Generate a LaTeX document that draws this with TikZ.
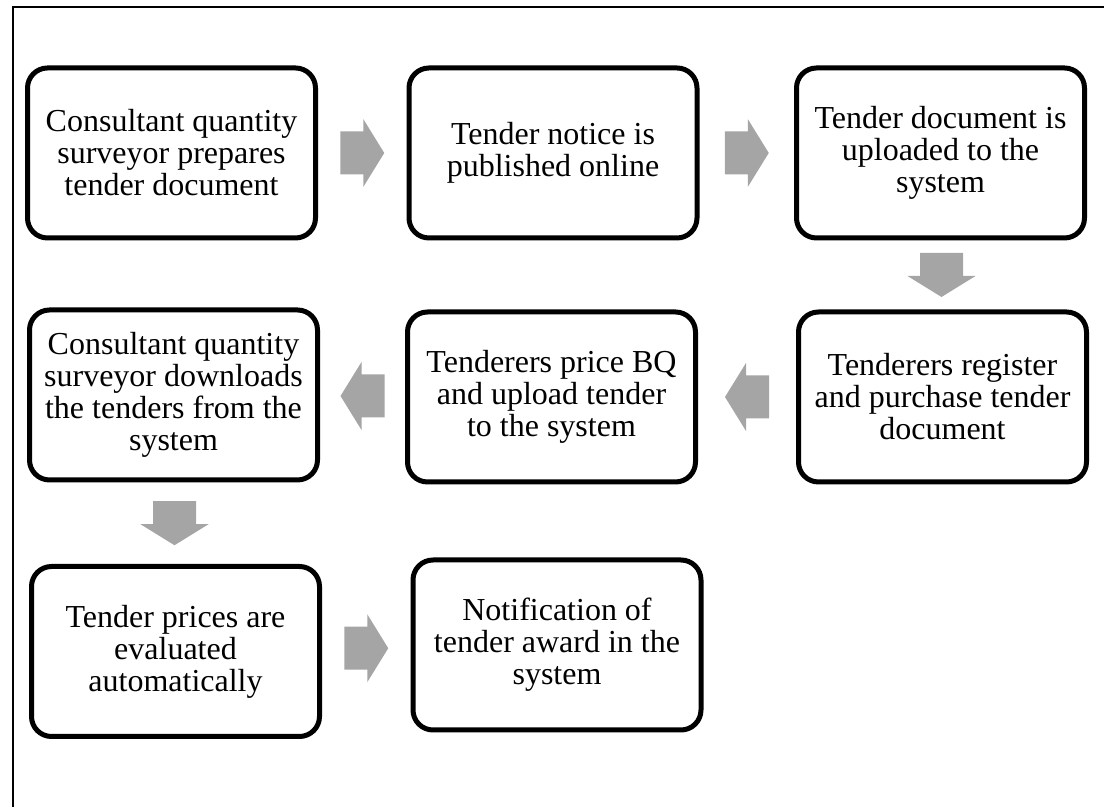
\documentclass[tikz,border=0pt]{standalone}
\usepackage{fontspec}
\setmainfont{Liberation Serif}
\usepackage{tikz}
\usetikzlibrary{calc}
\definecolor{arrowgray}{HTML}{A5A5A5}
\tikzset{
  stepbox/.style={draw, line width=2.5pt, rounded corners=10pt,
    minimum width=144pt, minimum height=85pt, inner sep=0pt,
    align=center, font=\fontsize{16}{16}\selectfont},
  blockarrow/.pic={
    \fill[arrowgray] (-22,-21.5) -- (1,-21.5) -- (1,-34) -- (22,0)
      -- (1,34) -- (1,21.5) -- (-22,21.5) -- cycle;
  }
}

\begin{document}
\begin{tikzpicture}[x=0.5pt,y=0.5pt]
  \useasboundingbox (0,0) rectangle (1104,807);
  \draw[line width=1pt] (13,0) -- (13,800) -- (1104,800);
  % first row
  \node[stepbox] (prepare) at (171.5,654) {Consultant quantity\\surveyor prepares\\tender document};
  \node[stepbox] (notice) at (553,654) {Tender notice is\\published online};
  \node[stepbox] (upload) at (940.5,654) {Tender document is\\uploaded to the\\system};
  % second row
  \node[stepbox] (register) at (942.5,410) {Tenderers register\\and purchase tender\\document};
  \node[stepbox] (price) at (551.5,410) {Tenderers price BQ\\and upload tender\\to the system};
  \node[stepbox] (download) at (173.5,412) {Consultant quantity\\surveyor downloads\\the tenders from the\\system};
  % third row
  \node[stepbox] (evaluate) at (175.5,155.5) {Tender prices are\\evaluated\\automatically};
  \node[stepbox] (award) at (557,162) {Notification of\\tender award in the\\system};
  % arrows
  \pic at ($(prepare.east)!0.5!(notice.west)$) {blockarrow};
  \pic at ($(notice.east)!0.5!(upload.west)$) {blockarrow};
  \pic[rotate=-90] at ($(upload.south)!0.5!(register.north)$) {blockarrow};
  \pic[rotate=180] at ($(register.west)!0.5!(price.east)$) {blockarrow};
  \pic[rotate=180] at ($(price.west)!0.5!(download.east)$) {blockarrow};
  \pic[rotate=-90] at ($(download.south)!0.5!(evaluate.north)$) {blockarrow};
  \pic at ($(evaluate.east)!0.5!(award.west)$) {blockarrow};
\end{tikzpicture}
\end{document}
